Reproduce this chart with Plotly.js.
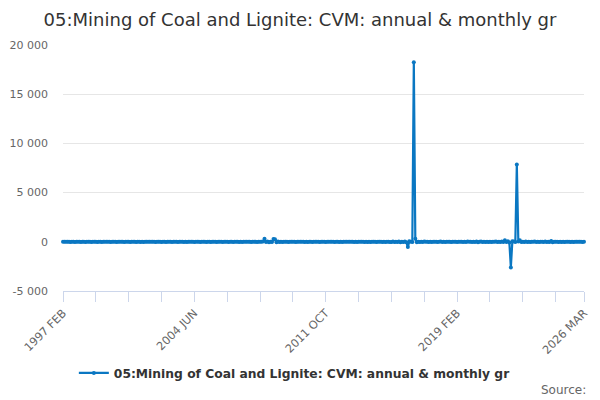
<!DOCTYPE html>
<html>
<head>
<meta charset="utf-8">
<script src="https://cdn.plot.ly/plotly-3.0.1.min.js"></script>
<style>
  html, body { margin: 0; padding: 0; background: #fff; }
  #chart { width: 600px; height: 400px; }
</style>
</head>
<body>
<div id="chart"></div>
<script>
// monthly series, 1997 FEB .. 2026 MAR (one row per year)
const firstYear = 1997
const firstMonth = 1 // FEB, zero based
const monthNames = ['JAN', 'FEB', 'MAR', 'APR', 'MAY', 'JUN', 'JUL', 'AUG', 'SEP', 'OCT', 'NOV', 'DEC']

const values = [
  4.1, -6.3, 12.5, -3.8, 8.2, -10.4, 5.6, 2.1, -7.9, 9.3, -4.4,
  6.7, -11.2, 3.4, 14.8, -9.5, 2.6, -5.1, 7.3, -12.6, 10.1, -2.7, 4.9,
  -8.4, 5.2, 13.6, -15.3, 6.1, -3.2, 9.8, -7.4, 2.5, -10.7, 11.9, -4.6,
  7.8, -13.1, 4.3, 10.6, -6.8, 15.2, -12.4, 3.7, -5.9, 8.5, -9.2, 6.4,
  -3.5, 12.2, -14.6, 5.9, 9.1, -8.7, 4.8, -11.3, 13.4, -6.2, 2.9, -7.5,
  10.3, -4.1, 6.9, -16.2, 11.5, -2.8, 7.6, -9.9, 5.3, 12.8, -13.7, 3.1,
  -6.5, 8.8, -10.2, 14.1, -5.4, 3.9, -12.1, 9.6, -3.3, 6.2, -8.1, 11.7,
  -9.8, 4.6, 13.3, -7.1, 2.4, -14.9, 10.8, -4.7, 8.4, -11.6, 5.7, -2.2,
  12.9, -8.3, 3.6, 9.4, -13.8, 6.6, -5.2, 15.7, -10.9, 4.2, -6.9, 8.1,
  -12.7, 7.2, -3.9, 11.1, -9.1, 5.5, 14.4, -16.8, 3.2, -4.8, 9.7, -7.7,
  6.3, -10.5, 13.9, -6.6, 4.4, -2.9, 8.9, -14.2, 11.3, -5.6, 2.7, -9.4,
  10.7, -7.2, 5.1, 18.6, 300, -12.3, 42.5, -36.1, 15.4, -28.7, 280, 250,
  -45.2, 22.1, -8.6, 12.4, -15.9, 6.8, -3.1, 9.2, -11.8, 4.5, 13.6, -7.3,
  5.8, -12.9, 8.7, -4.3, 11.2, -6.1, 3.8, -9.6, 14.7, -10.2, 2.3, 7.4,
  -13.4, 9.9, -5.7, 4.1, 12.6, -8.9, 6.5, -3.6, 10.4, -14.3, 5.9, -2.5,
  8.6, -6.4, 15.1, -11.5, 3.3, 7.9, -9.7, 4.7, -12.8, 13.2, -4.9, 6.1,
  -7.6, 11.8, -3.4, 9.1, -15.6, 5.4, -8.2, 12.3, -6.3, 3.5, 10.9, -11.1,
  4.9, -9.3, 7.7, -13.2, 16.4, -5.3, 2.8, -10.6, 8.3, -4.2, 13.7, -7.9,
  9.5, -14.1, 6.2, 11.4, -8.4, -22.6, 18.3, -31.5, 12.7, -19.4, 25.8, -35.2,
  14.6, -27.3, 21.4, -48.9, -540, 65.2, 12.8, -30.4, 18250, 300, -42.1, 15.6,
  -18.7, 9.3, -12.2, 24.6, -6.8, 11.5, -20.1, 7.4, -9.8, 16.2, -4.5, 8.9,
  -13.6, 6.7, 19.3, -10.9, 4.2, -15.4, 12.1, -7.3, 9.6, -22.8, 14.5, -5.2,
  10.8, -16.3, 7.5, -4.1, 13.9, -9.2, 5.6, -11.7, 18.4, -6.5, 3.4, -12.9,
  8.2, -19.8, 27.6, -35.4, 14.3, 22.7, -8.9, 11.6, -15.1, 6.3, -10.4, 17.2,
  -21.5, 12.4, -6.7, 30.8, -18.2, 9.5, -25.6, 40.3, -14.9, 150, -32.6, 55.4,
  -60.3, -2600, 45.8, 22.1, -12.5, 7850, 35.6, 150, -28.4, 16.9, -9.7, 21.3,
  -14.2, 8.6, -19.5, 12.7, -6.4, 24.3, -11.8, 5.2, -16.7, 9.9, 13.1, -8.3,
  18.5, -10.6, 6.8, -22.4, 85.2, -40.7, 11.3, -7.5, 15.8, -12.1, 4.6, -9.4,
  7.2, -13.5, 10.4, -5.8, 16.6, -9.1, 3.7, -14.4, 8.8, -6.2, 12.5, -4.7,
  9.6, -11.3, 5.4
]

const seriesName = '05:Mining of Coal and Lignite: CVM: annual & monthly gr'
const labelTicks = ['1997 FEB', '2004 JUN', '2011 OCT', '2019 FEB', '2026 MAR']
const tickStep = 22
const yTickVals = [-5000, 0, 5000, 10000, 15000, 20000]
const yTickText = ['-5 000', '0', '5 000', '10 000', '15 000', '20 000']

// month categories
var categories = []
for (var i = 0; i < values.length; i++) {
  var m = firstMonth + i
  categories.push((firstYear + Math.floor(m / 12)) + ' ' + monthNames[m % 12])
}

// tick marks every tickStep months, text only on the labelled ones
var xTickVals = []
var xTickText = []
for (var i = 0; i < categories.length; i++) {
  if (i % tickStep == 0 || i == categories.length - 1) {
    xTickVals.push(categories[i])
    xTickText.push(labelTicks.indexOf(categories[i]) >= 0 ? categories[i] : '')
  }
}

const blue = '#0a77c2'

var trace = {
  x: categories,
  y: values,
  name: seriesName,
  type: 'scatter',
  mode: 'lines+markers',
  line: {color: blue, width: 2.2},
  marker: {color: blue, size: 4},
  cliponaxis: false
}

var layout = {
  width: 600,
  height: 400,
  margin: {l: 63, r: 16, t: 45, b: 109},
  paper_bgcolor: '#fff',
  plot_bgcolor: '#fff',
  font: {family: 'DejaVu Sans, sans-serif', color: '#666', size: 11},
  title: {
    text: seriesName,
    font: {size: 18, color: '#333'},
    x: 0.5, xanchor: 'center',
    y: 0.95, yanchor: 'middle'
  },
  xaxis: {
    type: 'category',
    range: [0, categories.length - 1],
    tickmode: 'array',
    tickvals: xTickVals,
    ticktext: xTickText,
    tickangle: -45,
    ticks: 'outside',
    ticklen: 10,
    tickcolor: '#ccd6eb',
    showline: true,
    linecolor: '#ccd6eb',
    linewidth: 1,
    showgrid: false,
    zeroline: false,
    tickfont: {size: 11.3, color: '#666'}
  },
  yaxis: {
    range: [-5000, 20000],
    tickmode: 'array',
    tickvals: yTickVals,
    ticktext: yTickText,
    showgrid: true,
    gridcolor: '#e6e6e6',
    zeroline: false,
    showline: false,
    ticks: '',
    ticklabelstandoff: 14,
    tickfont: {size: 11, color: '#666'}
  },
  showlegend: true,
  legend: {
    orientation: 'h',
    x: 0.445, xanchor: 'center',
    y: -0.333, yanchor: 'middle',
    font: {size: 12.3, color: '#333', weight: 'bold'}
  },
  annotations: [{
    text: 'Source:',
    xref: 'paper', yref: 'paper',
    x: 1.008, y: -0.402,
    xanchor: 'right', yanchor: 'middle',
    showarrow: false,
    font: {size: 12, color: '#666'}
  }]
}

Plotly.newPlot('chart', [trace], layout, {displayModeBar: false, staticPlot: true})
</script>
</body>
</html>
